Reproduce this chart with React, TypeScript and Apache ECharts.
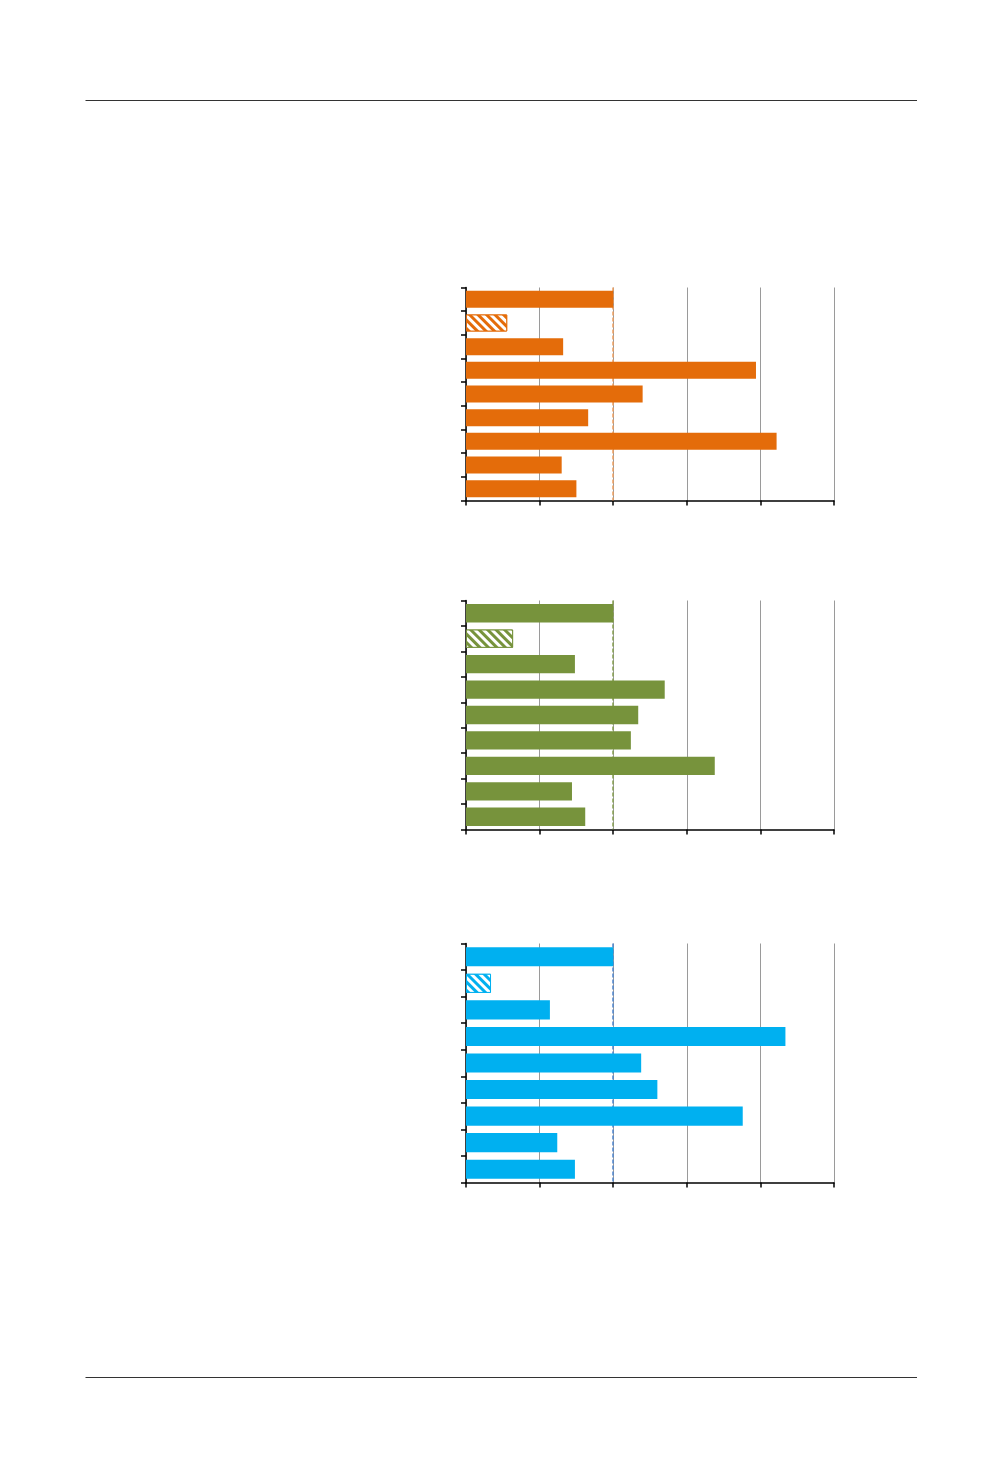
import React, { useEffect, useRef } from "react";
import * as echarts from "echarts";

const categories = ["1", "2", "3", "4", "5", "6", "7", "8", "9"];
const orangeValues = [100, 28, 66, 197, 120, 83, 211, 65, 75];
const greenValues = [100, 32, 74, 135, 117, 112, 169, 72, 81];
const blueValues = [100, 17, 57, 217, 119, 130, 188, 62, 74];
const hatchedIndex = 1;
const referenceValue = 100;
const xTicks = { min: 0, max: 250, interval: 50 };

const panels = [
  { values: orangeValues, color: "#E46C0A", refColor: "#F0A060", top: 287.5, height: 213 },
  { values: greenValues, color: "#77933C", refColor: "#86A050", top: 600.5, height: 229 },
  { values: blueValues, color: "#00B0F0", refColor: "#4F86D0", top: 943.5, height: 239 },
];

export default function App() {
  const ref = useRef<HTMLDivElement>(null);
  useEffect(() => {
    if (!ref.current) return;
    const chart = echarts.init(ref.current, undefined, { renderer: "svg" });
    const grid = panels.map((p) => ({
      left: 466,
      right: 1002 - 834,
      top: p.top,
      height: p.height,
      containLabel: false,
    }));
    const xAxis = panels.map((_, i) => ({
      type: "value",
      gridIndex: i,
      min: xTicks.min,
      max: xTicks.max,
      interval: xTicks.interval,
      axisLabel: { show: false },
      axisLine: { show: true, lineStyle: { color: "#000", width: 1.5 } },
      axisTick: { show: true, length: 5, lineStyle: { color: "#000", width: 1.5 } },
      splitLine: { show: true, lineStyle: { color: "#9A9A9A", width: 1 } },
    }));
    const yAxis = panels.map((_, i) => ({
      type: "category",
      gridIndex: i,
      data: categories,
      inverse: true,
      axisLabel: { show: false },
      axisLine: { show: true, lineStyle: { color: "#000", width: 1.5 } },
      axisTick: { show: true, length: 5, lineStyle: { color: "#000", width: 1.5 } },
      splitLine: { show: false },
    }));
    const series = panels.map((p, i) => ({
      type: "bar",
      xAxisIndex: i,
      yAxisIndex: i,
      z: 3,
      barCategoryGap: "28%",
      itemStyle: { color: p.color },
      data: p.values.map((v, j) =>
        j === hatchedIndex
          ? {
              value: v,
              itemStyle: {
                color: p.color,
                borderColor: p.color,
                borderWidth: 1,
                decal: {
                  symbol: "rect",
                  symbolSize: 1,
                  color: "#ffffff",
                  dashArrayX: [1, 0],
                  dashArrayY: [2.2, 2.2],
                  rotation: Math.PI / 4,
                },
              },
            }
          : v
      ),
      markLine: {
        silent: true,
        z: 2,
        symbol: "none",
        label: { show: false },
        lineStyle: { color: p.refColor, type: [4, 2], width: 1.5, opacity: 1 },
        data: [{ xAxis: referenceValue }],
      },
    }));
    chart.setOption({
      animation: false,
      backgroundColor: "#ffffff",
      grid,
      xAxis,
      yAxis,
      series,
      graphic: [
        {
          type: "line",
          shape: { x1: 85.5, y1: 100.5, x2: 917, y2: 100.5 },
          style: { stroke: "#333", lineWidth: 1.2 },
        },
        {
          type: "line",
          shape: { x1: 85.5, y1: 1377.5, x2: 917, y2: 1377.5 },
          style: { stroke: "#333", lineWidth: 1.2 },
        },
      ],
    });
    return () => chart.dispose();
  }, []);
  return (
    <div
      ref={ref}
      style={{ position: "absolute", left: 0, top: 0, width: 1002, height: 1475 }}
    />
  );
}
